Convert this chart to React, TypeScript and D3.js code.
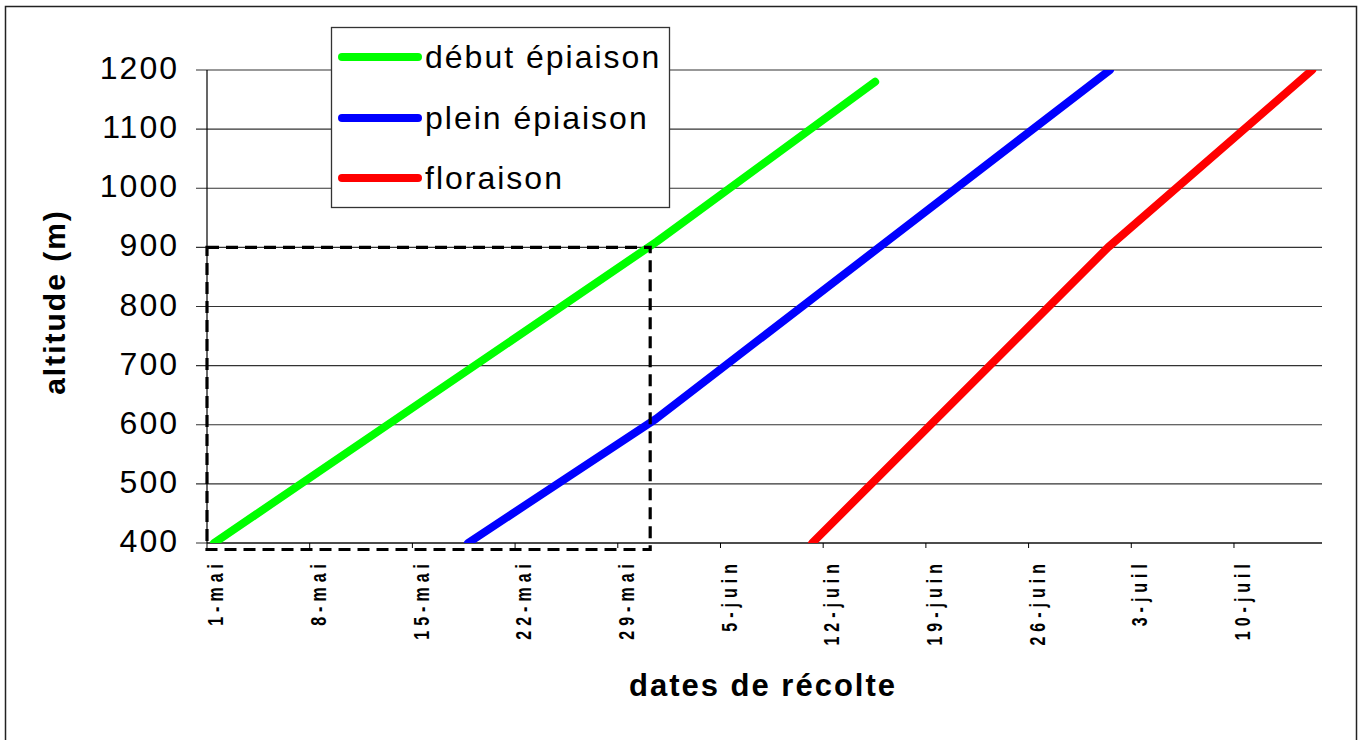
import React from 'react';
import * as d3 from 'd3';

const altitudeTicks = [400, 500, 600, 700, 800, 900, 1000, 1100, 1200];
const dateTicks = ['2007-05-01', '2007-05-08', '2007-05-15', '2007-05-22', '2007-05-29', '2007-06-05', '2007-06-12', '2007-06-19', '2007-06-26', '2007-07-03', '2007-07-10'];
const dateTickLabels = ['1-mai', '8-mai', '15-mai', '22-mai', '29-mai', '5-juin', '12-juin', '19-juin', '26-juin', '3-juil', '10-juil'];
const dateDomain = ['2007-05-01 00:00', '2007-07-16 00:00'];

const seriesNames = ['début épiaison', 'plein épiaison', 'floraison'];
const seriesColors = ['#00ff00', '#0000ff', '#ff0000'];

const debutDates = ['2007-05-01 11:30', '2007-05-31 16:00', '2007-06-15 13:00'];
const debutAltitudes = [400, 910, 1180];
const pleinDates = ['2007-05-18 19:00', '2007-05-31 14:30', '2007-07-01 13:00'];
const pleinAltitudes = [400, 610, 1200];
const floraisonDates = ['2007-06-11 06:00', '2007-07-01 10:00', '2007-07-15 08:00'];
const floraisonAltitudes = [400, 900, 1200];

// dashed frame drawn on the chart (1 mai -> 31 mai, up to 900 m)
const frameDates = ['2007-05-01 00:00', '2007-05-31 05:00'];
const frameAltitudes = [389, 900];

const font = "Arial, 'Liberation Sans', sans-serif";

const parseDay = d3.timeParse('%Y-%m-%d');
const parseTime = d3.timeParse('%Y-%m-%d %H:%M');

const App = () => {
  const left = 207, right = 1322, top = 70, bottom = 543;

  const xScale = d3.scaleTime()
    .domain(dateDomain.map(d => parseTime(d)))
    .range([left, right]);

  const yScale = d3.scaleLinear()
    .domain([400, 1200])
    .range([bottom, top]);

  const series = [
    { dates: debutDates, alts: debutAltitudes },
    { dates: pleinDates, alts: pleinAltitudes },
    { dates: floraisonDates, alts: floraisonAltitudes },
  ];

  const lineGenerator = d3.line()
    .x(d => xScale(d[0]))
    .y(d => yScale(d[1]));

  const fx0 = xScale(parseTime(frameDates[0]));
  const fx1 = xScale(parseTime(frameDates[1]));
  const fy0 = yScale(frameAltitudes[1]);
  const fy1 = yScale(frameAltitudes[0]);

  const legendRows = [57, 118, 178];

  return (
    <svg width={1366} height={740} style={{ position: 'absolute', left: 0, top: 0, background: '#fff' }}>
      <defs>
        <clipPath id="plot-clip">
          <rect x={left} y={top} width={right - left} height={bottom - top} />
        </clipPath>
      </defs>
      <rect x={5.5} y={6.5} width={1351} height={760} fill="#fff" stroke="#222" strokeWidth={1.5} />

      {altitudeTicks.map(v => (
        <g key={v}>
          <line x1={196} x2={right} y1={yScale(v)} y2={yScale(v)} stroke="#333" strokeWidth={1.2} />
          <text x={179} y={yScale(v) - 2} textAnchor="end" dominantBaseline="central"
            style={{ fontFamily: font, fontSize: '32px', letterSpacing: '2px' }}>{v}</text>
        </g>
      ))}

      <line x1={left} x2={left} y1={top} y2={bottom} stroke="#000" strokeWidth={1.2} />
      <line x1={left} x2={right} y1={bottom} y2={bottom} stroke="#000" strokeWidth={1.2} />

      {dateTicks.map((d, i) => {
        const x = xScale(parseDay(d));
        return (
          <g key={d}>
            <line x1={x} x2={x} y1={bottom} y2={bottom + 5} stroke="#000" strokeWidth={1} />
            <text transform={`translate(${x},559) rotate(-90) scale(1,1.4)`} x={0} y={11.5} textAnchor="end"
              style={{ fontFamily: font, fontSize: '16px', fontWeight: 'bold', letterSpacing: '5px' }}>
              {dateTickLabels[i]}
            </text>
          </g>
        );
      })}

      <g clipPath="url(#plot-clip)">
        {series.map((s, i) => (
          <path key={i} d={lineGenerator(s.dates.map((d, j) => [parseTime(d), s.alts[j]]))}
            fill="none" stroke={seriesColors[i]} strokeWidth={8} strokeLinecap="round" strokeLinejoin="round" />
        ))}
      </g>

      <rect x={fx0} y={fy0} width={fx1 - fx0} height={fy1 - fy0} fill="none" stroke="#000" strokeWidth={3.2} strokeDasharray="12,7" />

      <rect x={331.5} y={27.5} width={338} height={180} fill="#fff" stroke="#333" strokeWidth={1.3} />
      {seriesNames.map((name, i) => (
        <g key={name}>
          <line x1={342} x2={418} y1={legendRows[i]} y2={legendRows[i]} stroke={seriesColors[i]} strokeWidth={8} strokeLinecap="round" />
          <text x={425} y={legendRows[i] + 11}
            style={{ fontFamily: font, fontSize: '32px', letterSpacing: '2px' }}>{name}</text>
        </g>
      ))}

      <text transform="translate(65,302) rotate(-90)" textAnchor="middle"
        style={{ fontFamily: font, fontSize: '30px', fontWeight: 'bold', letterSpacing: '2px' }}>altitude (m)</text>
      <text x={763} y={696} textAnchor="middle"
        style={{ fontFamily: font, fontSize: '31px', fontWeight: 'bold', letterSpacing: '2px' }}>dates de récolte</text>
    </svg>
  );
};

export default App;
